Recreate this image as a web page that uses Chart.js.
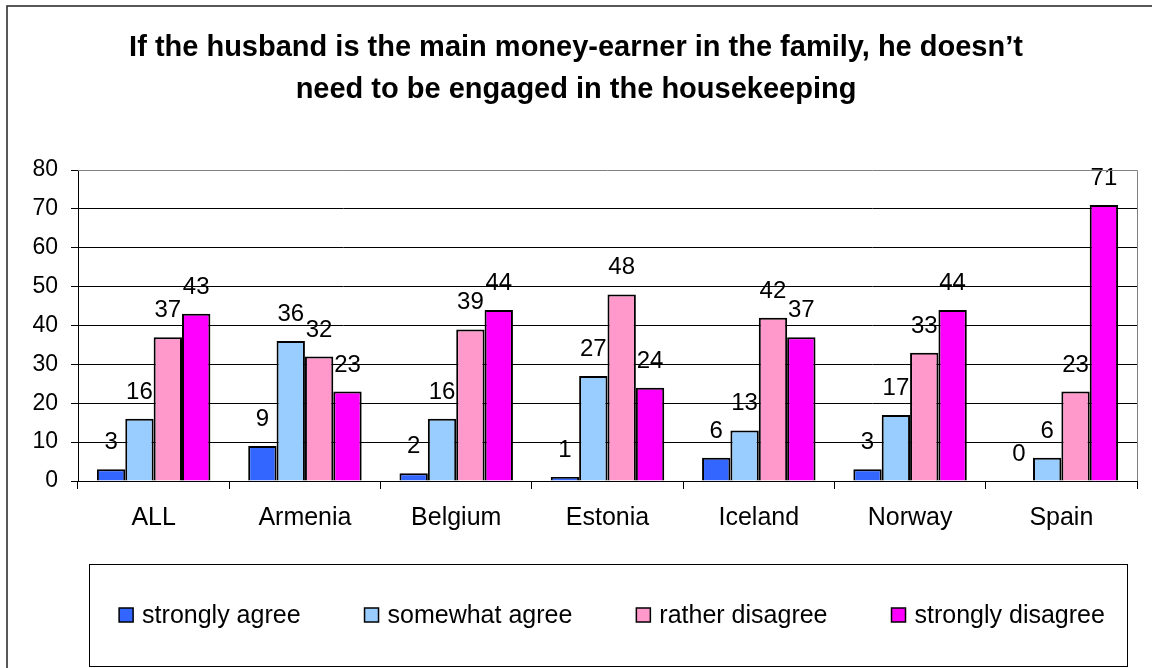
<!DOCTYPE html>
<html>
<head>
<meta charset="utf-8">
<script src="https://cdn.jsdelivr.net/npm/chart.js@4.4.1/dist/chart.umd.min.js"></script>
<style>
  html, body { margin: 0; padding: 0; background: #fff; }
  #wrap { width: 1152px; height: 668px; }
</style>
</head>
<body>
<div id="wrap"><canvas id="chart" width="1152" height="668"></canvas></div>
<script>
const titleLines = [
  "If the husband is the main money-earner in the family, he doesn’t",
  "need to be engaged in the housekeeping",
];
const countries = ["ALL", "Armenia", "Belgium", "Estonia", "Iceland", "Norway", "Spain"];
const stronglyAgree = [3, 9, 2, 1, 6, 3, 0];
const somewhatAgree = [16, 36, 16, 27, 13, 17, 6];
const ratherDisagree = [37, 32, 39, 48, 42, 33, 23];
const stronglyDisagree = [43, 23, 44, 24, 37, 44, 71];

const FONT = "'Liberation Sans', Arial, sans-serif";

const colors = {
  stronglyAgree: "#3366FF",
  somewhatAgree: "#99CCFF",
  ratherDisagree: "#FF99CC",
  stronglyDisagree: "#FF00FF",
};

// frame, title, plot border
const decorPlugin = {
  id: "decor",
  beforeDraw(chart) {
    const ctx = chart.ctx;
    ctx.save();
    ctx.strokeStyle = "#222";
    ctx.lineWidth = 1.5;
    ctx.beginPath();
    ctx.moveTo(7, 668);
    ctx.lineTo(7, 6);
    ctx.lineTo(1152, 6);
    ctx.stroke();

    ctx.fillStyle = "#000";
    ctx.font = "bold 29px " + FONT;
    ctx.textAlign = "center";
    ctx.textBaseline = "alphabetic";
    ctx.fillText(titleLines[0], 576, 56);
    ctx.fillText(titleLines[1], 576, 98);
    ctx.restore();
  },
  afterDraw(chart) {
    const { ctx, chartArea } = chart;
    ctx.save();
    ctx.strokeStyle = "#808080";
    ctx.lineWidth = 1;
    ctx.beginPath();
    ctx.moveTo(chartArea.left, chartArea.top + 0.5);
    ctx.lineTo(chartArea.right + 0.5, chartArea.top + 0.5);
    ctx.lineTo(chartArea.right + 0.5, chartArea.bottom);
    ctx.stroke();
    ctx.restore();
  },
};

// boxed legend under the axis, Excel style
const boxLegend = {
  id: "boxLegend",
  afterDraw(chart) {
    const ctx = chart.ctx;
    const sets = chart.data.datasets;
    ctx.save();
    ctx.strokeStyle = "#000";
    ctx.lineWidth = 1;
    ctx.strokeRect(89.5, 564.5, 1038, 102);

    ctx.font = "25px " + FONT;
    const box = 14, gap = 9, spacing = 64;
    const widths = sets.map((ds) => box + gap + ctx.measureText(ds.label).width);
    const total = widths.reduce((a, b) => a + b, 0) + spacing * (sets.length - 1);
    let x = 612 - total / 2;
    const cy = 615;
    ctx.textAlign = "left";
    ctx.textBaseline = "middle";
    sets.forEach((ds, i) => {
      ctx.fillStyle = ds.backgroundColor;
      ctx.fillRect(x, cy - box / 2, box, box);
      ctx.lineWidth = 1.5;
      ctx.strokeStyle = "#000";
      ctx.strokeRect(x, cy - box / 2, box, box);
      ctx.fillStyle = "#000";
      ctx.fillText(ds.label, x + box + gap, cy + 1);
      x += widths[i] + spacing;
    });
    ctx.restore();
  },
};

const valueLabels = {
  id: "valueLabels",
  afterDatasetsDraw(chart) {
    const ctx = chart.ctx;
    ctx.save();
    ctx.fillStyle = "#000";
    ctx.font = "24px " + FONT;
    ctx.textAlign = "center";
    ctx.textBaseline = "alphabetic";
    chart.data.datasets.forEach((ds, i) => {
      chart.getDatasetMeta(i).data.forEach((bar, j) => {
        ctx.fillText(String(ds.data[j]), bar.x, bar.y - 20);
      });
    });
    ctx.restore();
  },
};

function makeSet(label, data, color) {
  return {
    label,
    data,
    backgroundColor: color,
    borderColor: "#000",
    borderWidth: 2,
  };
}

new Chart(document.getElementById("chart"), {
  type: "bar",
  data: {
    labels: countries,
    datasets: [
      makeSet("strongly agree", stronglyAgree, colors.stronglyAgree),
      makeSet("somewhat agree", somewhatAgree, colors.somewhatAgree),
      makeSet("rather disagree", ratherDisagree, colors.ratherDisagree),
      makeSet("strongly disagree", stronglyDisagree, colors.stronglyDisagree),
    ],
  },
  options: {
    responsive: false,
    animation: false,
    layout: { padding: { left: 0, right: 15, top: 170, bottom: 120 } },
    datasets: { bar: { categoryPercentage: 0.75, barPercentage: 1 } },
    plugins: {
      title: { display: false },
      tooltip: { enabled: false },
      legend: { display: false },
    },
    scales: {
      x: {
        afterFit(scale) { scale.height = 67; },
        grid: {
          drawOnChartArea: false,
          drawTicks: true,
          tickLength: 8,
          color: "#000",
          offset: true,
        },
        border: { color: "#000", width: 1 },
        ticks: {
          color: "#000",
          padding: 14,
          font: { family: FONT, size: 25 },
        },
      },
      y: {
        min: 0,
        max: 80,
        afterFit(scale) { scale.width = 78; },
        grid: {
          color: (c) => (c.tick && c.tick.value === 80 ? "rgba(0,0,0,0)" : "#000"),
          tickColor: "#000",
          tickLength: 7,
        },
        border: { color: "#000", width: 1 },
        ticks: {
          stepSize: 10,
          autoSkip: false,
          color: "#000",
          padding: 13,
          font: { family: FONT, size: 23 },
        },
      },
    },
  },
  plugins: [decorPlugin, boxLegend, valueLabels],
});
</script>
</body>
</html>
